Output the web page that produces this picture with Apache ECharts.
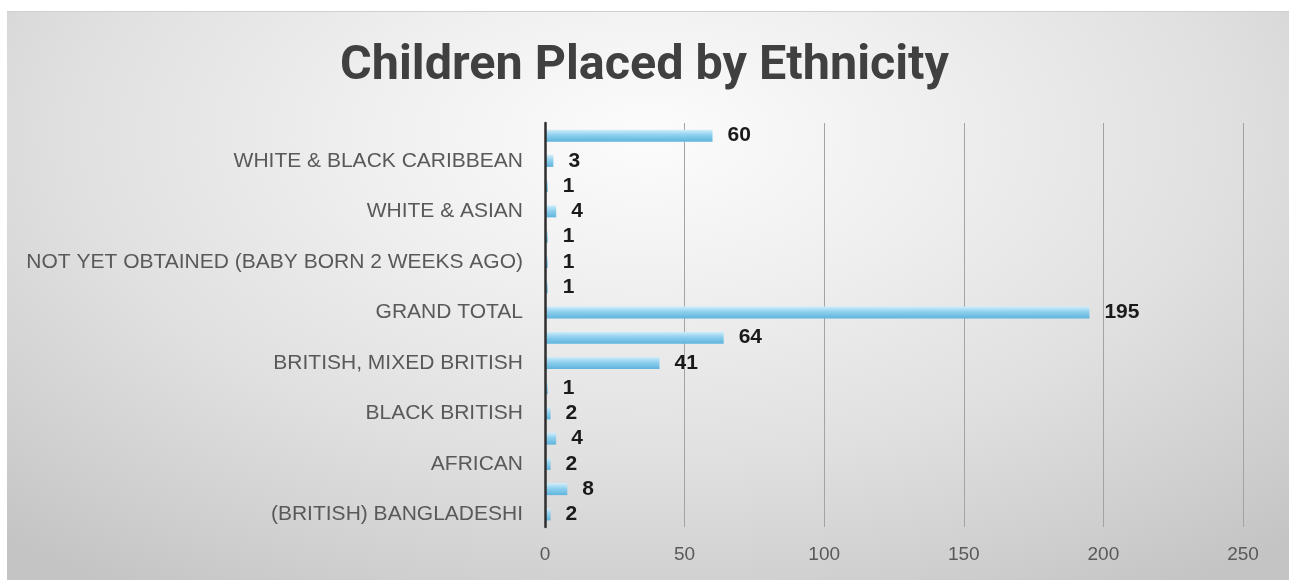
<!DOCTYPE html>
<html>
<head>
<meta charset="utf-8">
<title>Children Placed by Ethnicity</title>
<script src="https://cdn.jsdelivr.net/npm/echarts@6/dist/echarts.min.js"></script>
<style>
  html, body { margin: 0; padding: 0; background: #ffffff; }
  #wrap { position: relative; width: 1289px; height: 580px; overflow: hidden; }
  #panel {
    position: absolute; left: 7px; top: 11px; width: 1282px; height: 569px;
    border-top: 1px solid #d0d0d0;
    box-sizing: border-box;
    background: radial-gradient(ellipse 75% 95% at 50% 22%,
      #fcfcfc 0%, #efefef 30%, #e0e0e0 60%, #cfcfcf 85%, #c4c4c4 100%);
  }
  #chart { position: absolute; left: 0; top: 0; width: 1289px; height: 580px; }
</style>
</head>
<body>
<div id="wrap">
  <div id="panel"></div>
  <div id="chart"></div>
</div>
<script>
// Categories listed bottom-to-top; every other one carries a visible label
const categories = [
  '(BRITISH) BANGLADESHI',
  '(BRITISH) PAKISTANI',
  'AFRICAN',
  'ANY OTHER MIXED BACKGROUND',
  'BLACK BRITISH',
  'BLACK CARIBBEAN',
  'BRITISH, MIXED BRITISH',
  'ENGLISH, WELSH, SCOTTISH, NORTHERN IRISH OR BRITISH',
  'GRAND TOTAL',
  'IRISH',
  'NOT YET OBTAINED (BABY BORN 2 WEEKS AGO)',
  'OTHER ETHNIC GROUP',
  'WHITE & ASIAN',
  'WHITE & BLACK AFRICAN',
  'WHITE & BLACK CARIBBEAN',
  'WHITE BRITISH'
];
const placed = [2, 8, 2, 4, 2, 1, 41, 64, 195, 1, 1, 1, 4, 1, 3, 60];
const valueTicks = { min: 0, max: 250, step: 50 };

const labelFont = 'Liberation Sans, Arial, sans-serif';

const chart = echarts.init(document.getElementById('chart'), null, { renderer: 'canvas' });

chart.setOption({
  animation: false,
  backgroundColor: 'transparent',
  title: {
    text: 'Children Placed by Ethnicity',
    left: 'center',
    top: 37,
    textStyle: {
      fontFamily: 'Roboto, sans-serif',
      fontWeight: 'bold',
      fontSize: 48.5,
      color: '#404040'
    }
  },
  grid: { left: 545, right: 46, top: 123, bottom: 53, containLabel: false },
  xAxis: {
    type: 'value',
    min: valueTicks.min,
    max: valueTicks.max,
    interval: valueTicks.step,
    axisLine: { show: false },
    axisTick: { show: false },
    splitLine: { show: true, lineStyle: { color: '#a3a3a3', width: 1 } },
    axisLabel: {
      color: '#595959',
      fontFamily: labelFont,
      fontSize: 19,
      margin: 18
    }
  },
  yAxis: {
    type: 'category',
    data: categories,
    z: 5,
    axisLine: { show: true, lineStyle: { color: '#2e2e2e', width: 2.5 } },
    axisTick: { show: false },
    splitLine: { show: false },
    axisLabel: {
      interval: 1,
      color: '#595959',
      fontFamily: labelFont,
      fontSize: 21,
      margin: 22
    }
  },
  series: [
    {
      type: 'bar',
      data: placed,
      barWidth: 12,
      itemStyle: {
        color: {
          type: 'linear', x: 0, y: 0, x2: 0, y2: 1,
          colorStops: [
            { offset: 0, color: '#d2eefa' },
            { offset: 0.45, color: '#8ed0ee' },
            { offset: 1, color: '#5fb4dc' }
          ]
        }
      },
      label: {
        show: true,
        position: 'right',
        distance: 15,
        color: '#1a1a1a',
        fontFamily: labelFont,
        fontWeight: 'bold',
        fontSize: 21
      }
    }
  ]
});
</script>
</body>
</html>
